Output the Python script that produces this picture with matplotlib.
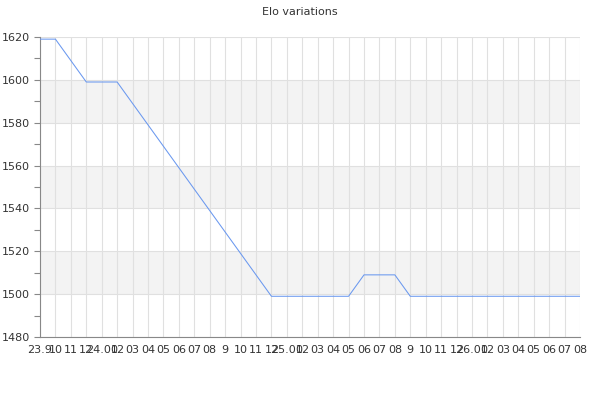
import numpy as np
import matplotlib
matplotlib.use("Agg")
import matplotlib.pyplot as plt

# month labels, Sep 2023 .. Aug 2026
labels = ["23.9", "10", "11", "12",
          "24.01", "02", "03", "04", "05", "06", "07", "08", "9", "10", "11", "12",
          "25.01", "02", "03", "04", "05", "06", "07", "08", "9", "10", "11", "12",
          "26.01", "02", "03", "04", "05", "06", "07", "08"]
elo = [1619, 1619, 1609, 1599, 1599, 1599, 1589, 1579, 1569, 1559, 1549, 1539,
       1529, 1519, 1509, 1499, 1499, 1499, 1499, 1499, 1499, 1509, 1509, 1509,
       1499, 1499, 1499, 1499, 1499, 1499, 1499, 1499, 1499, 1499, 1499, 1499]

x = np.arange(len(labels))

fig = plt.figure(figsize=(6, 4), dpi=100)
ax = fig.add_axes([40 / 600, 63 / 400, 540 / 600, 300 / 400])

# alternating bands
for lo in [1500, 1540, 1580]:
    ax.axhspan(lo, lo + 20, color="#f3f3f3", zorder=0, lw=0)

ax.plot(x, elo, color="#6a98ef", lw=0.75, zorder=3)

ax.set_xlim(0, len(labels) - 1)
ax.set_ylim(1480, 1620)
ax.set_xticks(x)
ax.set_xticklabels(labels)
ax.set_yticks(np.arange(1480, 1621, 20))
ax.set_yticks(np.arange(1480, 1621, 10), minor=True)

ax.grid(True, which="major", color="#e0e0e0", lw=0.8, zorder=1)
ax.set_axisbelow(True)

for s in ["top", "right"]:
    ax.spines[s].set_visible(False)
for s in ["left", "bottom"]:
    ax.spines[s].set_color("#888888")
    ax.spines[s].set_linewidth(0.8)

ax.tick_params(axis="x", length=0, labelsize=8, colors="#333333", pad=6)
ax.tick_params(axis="y", which="both", length=4, width=0.8, color="#888888",
               labelsize=8, labelcolor="#333333")

fig.text(0.5, 0.97, "Elo variations", ha="center", va="center",
         fontsize=8, color="#333333")

fig.savefig("out.png", dpi=100)
